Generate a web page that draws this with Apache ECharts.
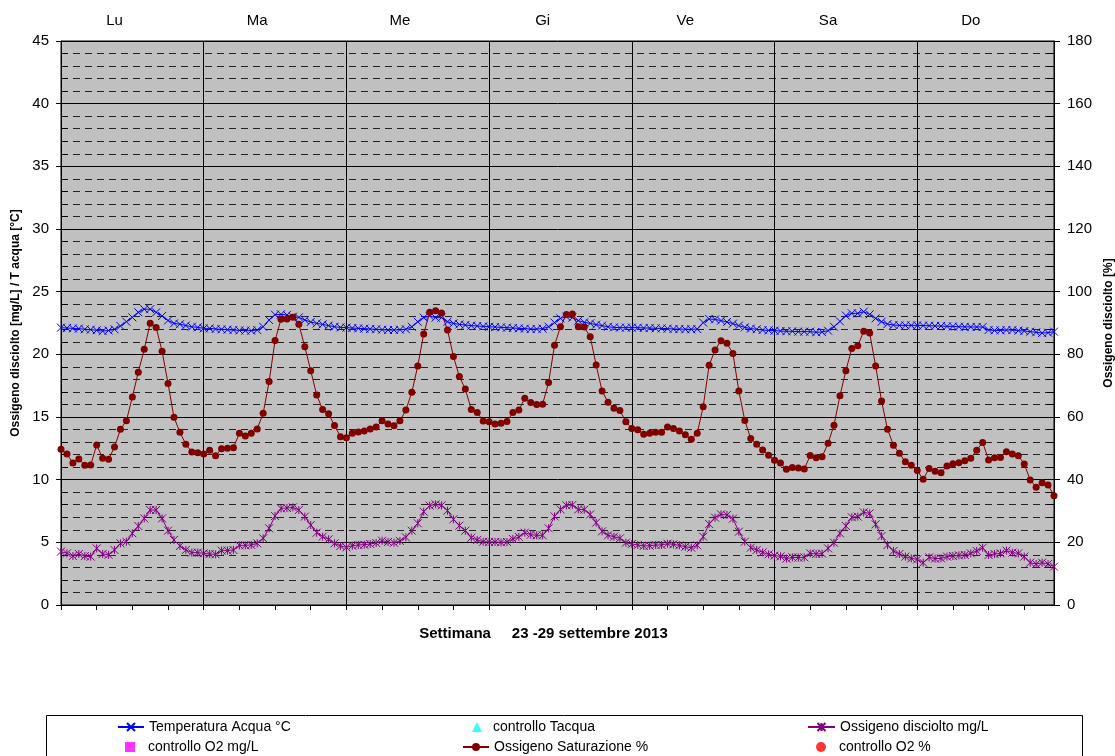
<!DOCTYPE html>
<html>
<head>
<meta charset="utf-8">
<script src="https://cdn.jsdelivr.net/npm/echarts@6/dist/echarts.min.js"></script>
<style>
html,body{margin:0;padding:0;background:#fff;}
#chart{width:1115px;height:756px;}
</style>
</head>
<body>
<div id="chart"></div>
<script>
var dayNames = ['Lu', 'Ma', 'Me', 'Gi', 'Ve', 'Sa', 'Do'];
var leftTicks = [0, 5, 10, 15, 20, 25, 30, 35, 40, 45];
var rightTicks = [0, 20, 40, 60, 80, 100, 120, 140, 160, 180];

var tempAcqua = [
  22.13, 22.10, 22.07, 22.05, 22.00, 21.97, 21.92, 21.85, 21.90, 22.00, 22.26, 22.60, 22.95, 23.35, 23.60, 23.60, 23.35, 23.06, 22.70, 22.47, 22.40, 22.30, 22.20, 22.15,
  22.07, 22.07, 22.02, 22.00, 21.97, 21.94, 21.91, 21.89, 21.89, 21.94, 22.20, 22.74, 23.16, 23.19, 23.14, 23.00, 22.95, 22.74, 22.58, 22.47, 22.39, 22.29, 22.20, 22.15,
  22.13, 22.10, 22.07, 22.05, 22.02, 22.00, 21.97, 21.94, 21.94, 21.97, 22.00, 22.20, 22.60, 22.93, 23.06, 22.93, 22.93, 22.60, 22.47, 22.39, 22.34, 22.29, 22.26, 22.23,
  22.20, 22.18, 22.15, 22.13, 22.10, 22.07, 22.05, 22.02, 22.02, 22.05, 22.20, 22.53, 22.87, 23.00, 22.93, 22.69, 22.55, 22.47, 22.37, 22.29, 22.20, 22.15, 22.13, 22.13,
  22.13, 22.13, 22.10, 22.10, 22.07, 22.07, 22.05, 22.02, 22.02, 22.00, 22.00, 22.02, 22.53, 22.82, 22.79, 22.69, 22.58, 22.45, 22.29, 22.15, 22.05, 22.00, 21.94, 21.91,
  21.89, 21.86, 21.84, 21.84, 21.81, 21.81, 21.81, 21.76, 21.78, 21.89, 22.20, 22.63, 23.09, 23.27, 23.27, 23.40, 23.19, 22.87, 22.60, 22.42, 22.34, 22.31, 22.31, 22.31,
  22.31, 22.29, 22.29, 22.26, 22.26, 22.23, 22.23, 22.20, 22.20, 22.18, 22.18, 22.18, 21.94, 21.91, 21.91, 21.94, 21.94, 21.89, 21.86, 21.81, 21.76, 21.70, 21.73, 21.81
];

var ossigenoMgL = [
  4.26, 4.12, 3.91, 4.07, 3.90, 3.86, 4.52, 4.07, 4.00, 4.39, 4.92, 5.05, 5.72, 6.30, 6.91, 7.58, 7.58, 6.91, 5.93, 5.19, 4.71, 4.39, 4.18, 4.18,
  4.12, 4.07, 4.04, 4.34, 4.34, 4.39, 4.76, 4.76, 4.79, 4.92, 5.32, 6.12, 7.10, 7.71, 7.74, 7.79, 7.58, 7.05, 6.38, 5.77, 5.45, 5.24, 4.92, 4.71,
  4.60, 4.73, 4.79, 4.81, 4.87, 4.95, 5.13, 5.03, 4.97, 5.11, 5.40, 5.93, 6.52, 7.45, 7.93, 8.03, 7.95, 7.53, 6.84, 6.33, 5.93, 5.37, 5.19, 5.05,
  5.03, 5.03, 5.00, 5.03, 5.27, 5.43, 5.77, 5.61, 5.56, 5.56, 6.12, 7.07, 7.63, 7.95, 7.98, 7.63, 7.61, 7.23, 6.57, 5.88, 5.56, 5.45, 5.32, 4.97,
  4.87, 4.79, 4.71, 4.73, 4.79, 4.79, 4.89, 4.84, 4.76, 4.65, 4.57, 4.76, 5.45, 6.46, 6.97, 7.23, 7.18, 6.89, 5.85, 5.05, 4.57, 4.39, 4.20, 4.04,
  3.94, 3.88, 3.70, 3.80, 3.78, 3.80, 4.12, 4.07, 4.10, 4.52, 4.97, 5.72, 6.30, 7.00, 7.05, 7.39, 7.31, 6.44, 5.51, 4.79, 4.31, 4.07, 3.86, 3.72,
  3.64, 3.38, 3.80, 3.70, 3.72, 3.86, 3.91, 3.96, 3.99, 4.12, 4.31, 4.57, 3.99, 4.07, 4.12, 4.34, 4.18, 4.12, 3.86, 3.38, 3.27, 3.38, 3.27, 3.06
];

var saturazione = [
  49.7, 48.2, 45.3, 46.6, 44.6, 44.7, 51.1, 46.8, 46.5, 50.4, 56.1, 58.8, 66.4, 74.3, 81.6, 89.9, 88.6, 81.0, 70.7, 59.9, 55.1, 51.3, 48.8, 48.6,
  48.2, 49.4, 47.6, 49.9, 50.0, 50.2, 54.8, 53.9, 54.8, 56.2, 61.2, 71.3, 84.4, 91.2, 91.3, 91.8, 89.6, 82.4, 74.8, 67.0, 62.4, 61.0, 57.3, 53.7,
  53.4, 54.8, 55.2, 55.5, 56.2, 56.8, 58.8, 57.8, 57.2, 58.8, 62.2, 67.9, 76.3, 86.5, 93.4, 93.9, 93.2, 87.8, 79.3, 72.9, 68.9, 62.4, 61.4, 58.7,
  58.5, 57.8, 58.0, 58.6, 61.4, 62.2, 66.0, 64.6, 64.0, 64.1, 71.0, 82.9, 88.8, 92.7, 92.9, 88.8, 88.7, 85.6, 76.6, 68.3, 64.7, 62.8, 62.1, 58.5,
  56.3, 55.9, 54.5, 54.8, 55.1, 55.1, 56.8, 56.3, 55.5, 54.3, 52.9, 54.8, 63.3, 76.5, 81.4, 84.3, 83.5, 80.3, 68.3, 58.9, 53.1, 51.3, 49.5, 47.8,
  46.2, 45.3, 43.3, 43.9, 43.7, 43.4, 47.7, 47.0, 47.3, 51.6, 57.4, 66.8, 74.8, 81.9, 82.7, 87.4, 86.8, 76.3, 65.1, 56.1, 51.0, 48.4, 45.7, 44.6,
  42.9, 40.1, 43.6, 42.7, 42.2, 44.4, 45.1, 45.4, 46.0, 46.8, 49.4, 51.9, 46.3, 47.0, 47.1, 48.9, 48.2, 47.6, 45.0, 39.9, 37.6, 39.0, 38.3, 34.9
];

var controlloTacqua = [];
var controlloO2mgL = [];
var controlloO2perc = [];

// hourly categories
var hours = [];
dayNames.forEach(function (d) {
  for (var h = 0; h < 24; h++) hours.push(d + ' ' + h + ':00');
});

var FONT = '"Liberation Sans", Arial, sans-serif';
var xSym = 'path://M0,0L10,10M10,0L0,10';
var starSym = 'path://M0,0L10,10M10,0L0,10M5,0L5,10';

var chart = echarts.init(document.getElementById('chart'));

function legendAt(name, left, top, w, pad) {
  return {
    data: [name], left: left, top: top, orient: 'horizontal',
    itemWidth: w, itemHeight: 10, selectedMode: false, padding: 0,
    textStyle: { fontFamily: FONT, fontSize: 14, color: '#000', padding: [0, 0, 0, pad || 0] }
  };
}

var option = {
  animation: false,
  backgroundColor: '#fff',
  textStyle: { fontFamily: FONT },
  grid: {
    left: 61, right: 61, top: 41, bottom: 151,
    outerBoundsMode: 'none', containLabel: false,
    show: true, backgroundColor: '#C0C0C0', borderColor: '#000', borderWidth: 1
  },
  graphic: [{
    type: 'rect', left: 46, top: 715, z: 0, silent: true,
    shape: { width: 1036, height: 60 },
    style: { fill: '#fff', stroke: '#000', lineWidth: 1 }
  }],
  legend: [
    legendAt('Temperatura Acqua °C', 117, 720, 26),
    legendAt('controllo Tacqua', 472, 720, 10, 6),
    legendAt('Ossigeno disciolto mg/L', 807, 720, 27),
    legendAt('controllo O2 mg/L', 125, 740, 10, 8),
    legendAt('Ossigeno Saturazione %', 462, 740, 26),
    legendAt('controllo O2 %', 816, 740, 10, 8)
  ],
  xAxis: [
    {
      type: 'category', data: hours, boundaryGap: false, position: 'bottom',
      axisLine: { show: true, lineStyle: { color: '#000', width: 1 } },
      axisTick: { show: true, interval: 5, length: 5, lineStyle: { color: '#000' } },
      axisLabel: { show: false },
      splitLine: { show: true, interval: 23, lineStyle: { color: '#000', width: 1 } },
      name: 'Settimana     23 -29 settembre 2013',
      nameLocation: 'middle', nameGap: 21,
      nameTextStyle: { fontFamily: FONT, fontSize: 15, fontWeight: 'bold', color: '#000', padding: [0, 28, 0, 0] }
    },
    {
      type: 'category', data: hours, boundaryGap: false, position: 'top',
      axisLine: { show: false }, axisTick: { show: false }, splitLine: { show: false },
      axisLabel: {
        show: true, interval: 0, margin: 13,
        fontFamily: FONT, fontSize: 15, color: '#000',
        formatter: function (v, i) { return (i % 24 === 9) ? dayNames[Math.floor(i / 24)] : ''; }
      }
    }
  ],
  yAxis: [
    {
      type: 'value', position: 'left', min: 0, max: 45, interval: 5, offset: 0,
      axisLine: { show: true, lineStyle: { color: '#000' } },
      axisTick: { show: true, length: 5, lineStyle: { color: '#000' } },
      axisLabel: { margin: 12, fontFamily: FONT, fontSize: 15, color: '#000',
        formatter: function (v) { return leftTicks.indexOf(v) >= 0 ? String(v) : ''; } },
      splitLine: { show: true, lineStyle: { color: '#000', width: 1 } },
      minorTick: { show: false, splitNumber: 5 },
      minorSplitLine: { show: true, lineStyle: { color: '#222', width: 1, type: [7, 5] } },
      name: 'Ossigeno disciolto [mg/L] / T acqua [°C]',
      nameLocation: 'middle', nameGap: 37, nameRotate: 90,
      nameTextStyle: { fontFamily: FONT, fontSize: 12, fontWeight: 'bold', color: '#000' }
    },
    {
      type: 'value', position: 'right', min: 0, max: 180, interval: 20, offset: 0,
      axisLine: { show: true, lineStyle: { color: '#000' } },
      axisTick: { show: true, length: 6, lineStyle: { color: '#000' } },
      axisLabel: { margin: 13, fontFamily: FONT, fontSize: 15, color: '#000',
        formatter: function (v) { return rightTicks.indexOf(v) >= 0 ? String(v) : ''; } },
      splitLine: { show: false },
      name: 'Ossigeno disciolto [%]',
      nameLocation: 'middle', nameGap: 48, nameRotate: 90,
      nameTextStyle: { fontFamily: FONT, fontSize: 12, fontWeight: 'bold', color: '#000' }
    },
    {
      type: 'value', position: 'left', min: 0, max: 45, interval: 5, offset: 0,
      axisLine: { show: false },
      axisTick: { show: true, inside: true, length: 9, lineStyle: { color: '#000' } },
      minorTick: { show: true, splitNumber: 5, length: 7, lineStyle: { color: '#000' } },
      axisLabel: { show: false }, splitLine: { show: false }
    },
    {
      type: 'value', position: 'right', min: 0, max: 180, interval: 20, offset: 0,
      axisLine: { show: false },
      axisTick: { show: true, inside: true, length: 8, lineStyle: { color: '#000' } },
      minorTick: { show: true, splitNumber: 5, length: 7, lineStyle: { color: '#000' } },
      axisLabel: { show: false }, splitLine: { show: false }
    }
  ],
  series: [
    {
      name: 'Temperatura Acqua °C', type: 'line', xAxisIndex: 0, yAxisIndex: 0,
      data: tempAcqua, symbol: xSym, symbolSize: 8, showAllSymbol: true, showSymbol: true,
      lineStyle: { color: '#0000FF', width: 1 },
      itemStyle: { color: '#0000FF', borderColor: '#0000FF', borderWidth: 1 },
      emphasis: { disabled: true }, silent: true, z: 2
    },
    {
      name: 'controllo Tacqua', type: 'scatter', xAxisIndex: 0, yAxisIndex: 0,
      data: controlloTacqua, symbol: 'triangle', symbolSize: 10,
      itemStyle: { color: '#00FFFF' }, silent: true
    },
    {
      name: 'Ossigeno disciolto mg/L', type: 'line', xAxisIndex: 0, yAxisIndex: 0,
      data: ossigenoMgL, symbol: starSym, symbolSize: 8, showAllSymbol: true, showSymbol: true,
      lineStyle: { color: '#800080', width: 1 },
      itemStyle: { color: '#800080', borderColor: '#800080', borderWidth: 1 },
      emphasis: { disabled: true }, silent: true, z: 3
    },
    {
      name: 'controllo O2 mg/L', type: 'scatter', xAxisIndex: 0, yAxisIndex: 0,
      data: controlloO2mgL, symbol: 'rect', symbolSize: 10,
      itemStyle: { color: '#FF00FF' }, silent: true
    },
    {
      name: 'Ossigeno Saturazione %', type: 'line', xAxisIndex: 0, yAxisIndex: 1,
      data: saturazione, symbol: 'circle', symbolSize: 7, showAllSymbol: true, showSymbol: true,
      lineStyle: { color: '#800000', width: 1 },
      itemStyle: { color: '#800000', borderColor: '#800000', borderWidth: 0 },
      emphasis: { disabled: true }, silent: true, z: 4
    },
    {
      name: 'controllo O2 %', type: 'scatter', xAxisIndex: 0, yAxisIndex: 1,
      data: controlloO2perc, symbol: 'circle', symbolSize: 10,
      itemStyle: { color: '#FF0000' }, silent: true
    }
  ]
};
chart.setOption(option);
</script>
</body>
</html>
